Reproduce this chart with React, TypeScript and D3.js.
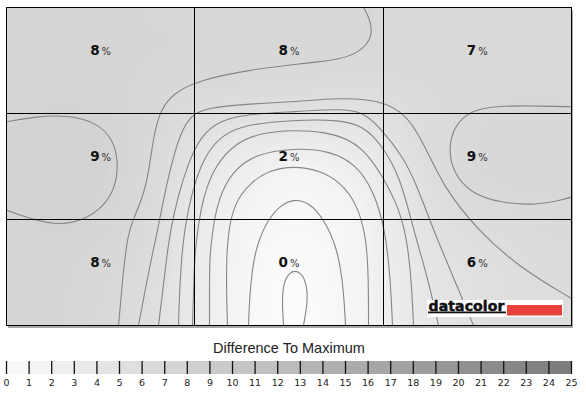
import { useMemo } from "react";
import * as d3 from "d3";

// panel is measured in its own units, 565 x 317
const panelWidth = 565;
const panelHeight = 317;

const cellValues = [8, 8, 7, 9, 2, 9, 8, 0, 6];
const legendTicks = [
  0, 1, 2, 3, 4, 5, 6, 7, 8, 9, 10, 11, 12, 13, 14, 15, 16, 17, 18, 19, 20,
  21, 22, 23, 24, 25,
];
const legendTitle = "Difference To Maximum";

// coarse luminance-difference field used for the background shading
const fieldX = [0, 71, 141, 212, 283, 353, 424, 494, 565];
const fieldY = [0, 53, 106, 158, 211, 264, 317];
const fieldValues = [
  [9.6, 9.6, 9.5, 9.4, 9.3, 9.05, 8.8, 8.8, 8.8],
  [9.8, 9.7, 9.5, 9.3, 9.05, 8.9, 8.7, 8.8, 8.9],
  [9.9, 10.05, 9.2, 7.5, 7.1, 6.9, 8.3, 9.05, 9.05],
  [10.3, 10.4, 8.9, 5.0, 3.05, 4.2, 7.9, 9.3, 9.3],
  [9.9, 10.05, 8.5, 3.7, 1.8, 2.85, 7.0, 8.3, 8.8],
  [9.7, 9.5, 8.0, 3.5, 0.95, 2.7, 6.1, 7.5, 8.25],
  [9.6, 9.4, 7.55, 3.5, 0.7, 2.6, 5.7, 7.4, 7.7],
];

// isolines, in panel units
const iso1 = [[277, 317], [275.5, 292], [277, 275], [282, 265], [288.5, 262], [295, 265], [300, 275], [301.5, 292], [297, 317]];
const iso2 = [[242, 317], [243, 290], [246, 258], [251, 235], [261, 212], [274, 197], [287, 191], [302, 194], [317, 210], [331, 240], [337, 279], [339, 317]];
const iso3 = [[221, 317], [220, 285], [220, 250], [222, 222], [228, 195], [244, 174], [264, 162], [287, 158], [312, 162], [334, 174], [350, 195], [360, 228], [362, 272], [362, 317]];
const iso4 = [[203, 317], [203, 285], [203, 250], [206, 222], [212, 190], [226, 163], [249, 146], [287, 140], [324, 143], [349, 156], [367, 182], [379, 222], [384, 272], [386, 317]];
const iso5 = [[186, 317], [187, 285], [188, 250], [191, 222], [197, 187], [209, 157], [229, 135], [254, 125], [287, 122], [319, 124], [344, 132], [362, 147], [377, 170], [391, 197], [400, 227], [405, 272], [407, 317]];
const iso6 = [[172, 317], [173, 285], [175, 250], [178, 222], [184, 190], [194, 157], [209, 132], [234, 117], [287, 112], [334, 112], [356, 118], [374, 135], [394, 169], [407, 222], [422, 272], [432, 317]];
const iso7 = [[152, 317], [156, 285], [160, 250], [164, 222], [171, 190], [181, 157], [194, 128], [214, 112], [244, 106], [287, 104], [334, 101], [356, 104], [373, 119], [397, 149], [411, 179], [427, 222], [446, 267], [467, 317]];
const iso8 = [[132, 317], [138, 285], [145, 250], [151, 222], [157, 192], [164, 159], [174, 125], [184, 108], [199, 100], [244, 96], [287, 94], [334, 90], [372, 92], [400, 106], [417, 135], [437, 179], [471, 222], [514, 260], [565, 290]];
const iso9 = [[112, 317], [116, 272], [121, 224], [131, 202], [141, 175], [147, 127], [154, 102], [167, 85], [194, 72], [244, 62], [294, 56], [334, 52], [354, 44], [366, 30], [364, 12], [357, 0]];
const iso9Right = [[565, 99], [524, 98], [494, 98], [464, 102], [447, 119], [442, 142], [447, 165], [464, 185], [494, 195], [531, 197], [554, 192], [565, 189]];
const iso10Left = [[0, 114], [27, 109], [61, 107], [91, 115], [107, 132], [112, 155], [109, 179], [97, 199], [77, 212], [54, 217], [27, 212], [0, 202]];

const isolines = [iso1, iso2, iso3, iso4, iso5, iso6, iso7, iso8, iso9, iso9Right, iso10Left];

const plot = { left: 6.5, top: 7.5, right: 571.5, bottom: 325.5 };

function cubic(p0: number, p1: number, p2: number, p3: number, t: number) {
  return (
    p1 +
    0.5 * t * (p2 - p0 + t * (2 * p0 - 5 * p1 + 4 * p2 - p3 + t * (3 * (p1 - p2) + p3 - p0)))
  );
}

function sampleField(gx: number, gy: number) {
  const rows = fieldValues.length;
  const cols = fieldValues[0].length;
  const at = (r: number, c: number) =>
    fieldValues[Math.max(0, Math.min(rows - 1, r))][Math.max(0, Math.min(cols - 1, c))];
  const ix = Math.floor(gx);
  const iy = Math.floor(gy);
  const tx = gx - ix;
  const ty = gy - iy;
  const rowVals = [-1, 0, 1, 2].map((dy) =>
    cubic(at(iy + dy, ix - 1), at(iy + dy, ix), at(iy + dy, ix + 1), at(iy + dy, ix + 2), tx)
  );
  return cubic(rowVals[0], rowVals[1], rowVals[2], rowVals[3], ty);
}

export default function App() {
  const x = d3.scaleLinear().domain([0, panelWidth]).range([plot.left, plot.right]);
  const y = d3.scaleLinear().domain([0, panelHeight]).range([plot.top, plot.bottom]);
  const shade = (v: number) => {
    const g = Math.round(Math.max(0, Math.min(255, 255 - v * 4.3)));
    return d3.rgb(g, g, g).formatHex();
  };

  const bands = useMemo(() => {
    const nx = 113;
    const ny = 64;
    const gxScale = d3.scaleLinear().domain(fieldX).range(d3.range(fieldX.length)).clamp(true);
    const gyScale = d3.scaleLinear().domain(fieldY).range(d3.range(fieldY.length)).clamp(true);
    const values: number[] = new Array(nx * ny);
    for (let j = 0; j < ny; j++) {
      for (let i = 0; i < nx; i++) {
        const px = ((i + 0.5) / nx) * panelWidth;
        const py = ((j + 0.5) / ny) * panelHeight;
        values[j * nx + i] = sampleField(gxScale(px), gyScale(py));
      }
    }
    const contours = d3.contours().size([nx, ny]).thresholds(d3.range(0, 11, 0.25))(values);
    const path = d3.geoPath(
      d3.geoTransform({
        point(px: number, py: number) {
          this.stream.point(x((px / nx) * panelWidth), y((py / ny) * panelHeight));
        },
      })
    );
    return contours.map((c) => ({ d: path(c) || "", value: c.value }));
  }, []);

  const line = d3
    .line<number[]>()
    .x((d) => x(d[0]))
    .y((d) => y(d[1]))
    .curve(d3.curveBasis);

  const crisp = (v: number) => Math.round(v - 0.5) + 0.5;
  const colLines = [1, 2].map((k) => crisp(x((panelWidth * k) / 3)));
  const rowLines = [1, 2].map((k) => crisp(y((panelHeight * k) / 3)));

  const legendX = d3.scaleLinear().domain([0, 25]).range([6.5, 571.5]);
  const legendColor = d3.scaleLinear<string>().domain([0, 25]).range(["#fbfbfb", "#7a7a7a"]);
  const segments = legendTicks.slice(0, -1);

  const cellW = panelWidth / 3;
  const cellH = panelHeight / 3;

  return (
    <svg
      width={586}
      height={396}
      style={{ position: "absolute", left: 0, top: 0, background: "#fff" }}
    >
      <defs>
        <clipPath id="plotClip">
          <rect x={plot.left} y={plot.top} width={plot.right - plot.left} height={plot.bottom - plot.top} />
        </clipPath>
      </defs>
      <rect x={plot.left + 1.5} y={plot.top + 2.5} width={plot.right - plot.left} height={plot.bottom - plot.top} fill="#a8a8a8" />
      <g clipPath="url(#plotClip)">
        <rect x={plot.left} y={plot.top} width={plot.right - plot.left} height={plot.bottom - plot.top} fill="#fff" />
        {bands.map((b, i) => (
          <path key={i} d={b.d} fill={shade(b.value + 0.125)} />
        ))}
        {isolines.map((pts, i) => (
          <path key={i} d={line(pts) || ""} fill="none" stroke="#858585" strokeWidth={1.1} />
        ))}
      </g>
      {colLines.map((cx, i) => (
        <line key={"c" + i} x1={cx} x2={cx} y1={plot.top} y2={plot.bottom} stroke="#000" strokeWidth={1} />
      ))}
      {rowLines.map((ry, i) => (
        <line key={"r" + i} x1={plot.left} x2={plot.right} y1={ry} y2={ry} stroke="#000" strokeWidth={1} />
      ))}
      <rect x={plot.left} y={plot.top} width={plot.right - plot.left} height={plot.bottom - plot.top} fill="none" stroke="#000" strokeWidth={1} />
      {cellValues.map((v, i) => {
        const col = i % 3;
        const row = Math.floor(i / 3);
        return (
          <text
            key={i}
            x={x(cellW * (col + 0.5))}
            y={y(cellH * (row + 0.5)) - 5.5}
            textAnchor="middle"
            fontFamily="DejaVu Sans, sans-serif"
          >
            <tspan fontWeight="bold" fontSize={13.5} fill="#111">{v}</tspan>
            <tspan fontSize={10} fill="#333" dx={2}>%</tspan>
          </text>
        );
      })}
      <g>
        <rect x={427} y={300} width={136} height={17} fill="#fff" />
        <text
          x={428.5}
          y={310.5}
          fontFamily="DejaVu Sans, sans-serif"
          fontWeight="bold"
          fontSize={14}
          letterSpacing={0.1}
          fill="#111"
          stroke="#111"
          strokeWidth={0.5}
          textLength={76}
          lengthAdjust="spacingAndGlyphs"
        >
          datacolor
        </text>
        <rect x={428} y={311.5} width={78} height={1.8} fill="#111" />
        <rect x={507} y={305} width={55} height={10.5} fill="#e8403a" />
      </g>
      <text x={289} y={353} textAnchor="middle" fontFamily="Liberation Sans, Arial, sans-serif" fontSize={14.5} fill="#222">
        {legendTitle}
      </text>
      {segments.map((v) => (
        <rect key={v} x={legendX(v)} y={361} width={legendX(v + 1) - legendX(v)} height={13} fill={legendColor(v + 0.5)} />
      ))}
      {legendTicks.map((v) => (
        <g key={v}>
          <line x1={legendX(v)} x2={legendX(v)} y1={361} y2={374} stroke="#111" strokeWidth={1.3} />
          <text x={legendX(v)} y={385.5} textAnchor="middle" fontFamily="DejaVu Sans, sans-serif" fontSize={9.5} fill="#222">
            {v}
          </text>
        </g>
      ))}
    </svg>
  );
}
